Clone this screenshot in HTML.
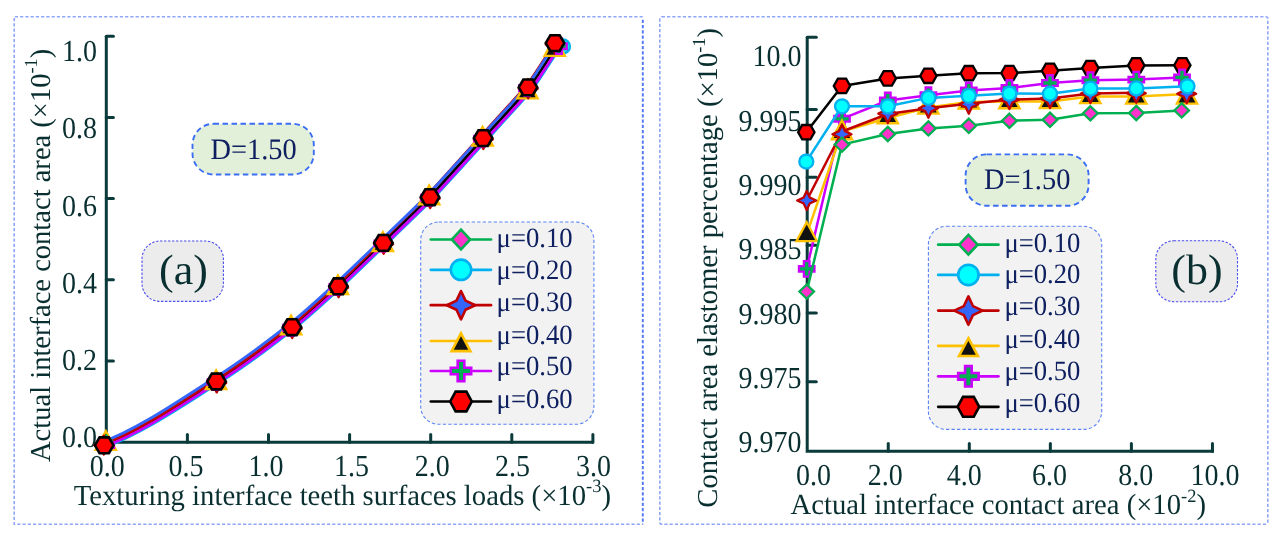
<!DOCTYPE html>
<html><head><meta charset="utf-8"><title>chart</title>
<style>
html,body{margin:0;padding:0;background:#fff;}
svg{display:block;font-family:'Liberation Serif', serif;text-rendering:geometricPrecision;will-change:transform;}
</style></head>
<body>
<svg width="1282" height="540" viewBox="0 0 1282 540">
<rect width="1282" height="540" fill="#ffffff"/>
<path d="M642.8 16.7H14.2V524.3H642.8" fill="none" stroke="#90a6fa" stroke-width="1.6" stroke-dasharray="3.2 2.05"/>
<path d="M642.8 19.7V524.3" fill="none" stroke="#5277f6" stroke-width="1.9" stroke-dasharray="3.4 1.85" stroke-linecap="butt"/>
<rect x="659.8" y="16.7" width="608.00" height="507.60" rx="2" fill="none" stroke="#90a6fa" stroke-width="1.6" stroke-dasharray="3.2 2.05"/>
<path d="M106.3 36.3V442.2H593.6" fill="none" stroke="#0b3a3a" stroke-width="3.0" stroke-linejoin="miter"/>
<path d="M106.3 36.30H113.4" stroke="#0b3a3a" stroke-width="3.0" stroke-linecap="round"/>
<path d="M106.3 117.45H113.4" stroke="#0b3a3a" stroke-width="3.0" stroke-linecap="round"/>
<path d="M106.3 198.60H113.4" stroke="#0b3a3a" stroke-width="3.0" stroke-linecap="round"/>
<path d="M106.3 279.75H113.4" stroke="#0b3a3a" stroke-width="3.0" stroke-linecap="round"/>
<path d="M106.3 360.90H113.4" stroke="#0b3a3a" stroke-width="3.0" stroke-linecap="round"/>
<path d="M187.40 442.2V434.6" stroke="#0b3a3a" stroke-width="3.0" stroke-linecap="round"/>
<path d="M268.50 442.2V434.6" stroke="#0b3a3a" stroke-width="3.0" stroke-linecap="round"/>
<path d="M349.60 442.2V434.6" stroke="#0b3a3a" stroke-width="3.0" stroke-linecap="round"/>
<path d="M430.70 442.2V434.6" stroke="#0b3a3a" stroke-width="3.0" stroke-linecap="round"/>
<path d="M511.80 442.2V434.6" stroke="#0b3a3a" stroke-width="3.0" stroke-linecap="round"/>
<path d="M592.90 442.2V434.6" stroke="#0b3a3a" stroke-width="3.0" stroke-linecap="round"/>
<text transform="translate(96.9 61.0) scale(1 1.09)" font-size="28" text-anchor="end" fill="#0a2f30" >1.0</text>
<text transform="translate(96.9 138.25) scale(1 1.09)" font-size="28" text-anchor="end" fill="#0a2f30" >0.8</text>
<text transform="translate(96.9 215.5) scale(1 1.09)" font-size="28" text-anchor="end" fill="#0a2f30" >0.6</text>
<text transform="translate(96.9 292.75) scale(1 1.09)" font-size="28" text-anchor="end" fill="#0a2f30" >0.4</text>
<text transform="translate(96.9 370.0) scale(1 1.09)" font-size="28" text-anchor="end" fill="#0a2f30" >0.2</text>
<text transform="translate(96.9 447.25) scale(1 1.09)" font-size="28" text-anchor="end" fill="#0a2f30" >0.0</text>
<text transform="translate(107.2 476) scale(1 1.09)" font-size="28" text-anchor="middle" fill="#0a2f30" >0.0</text>
<text transform="translate(186.0 476) scale(1 1.09)" font-size="28" text-anchor="middle" fill="#0a2f30" >0.5</text>
<text transform="translate(266.0 476) scale(1 1.09)" font-size="28" text-anchor="middle" fill="#0a2f30" >1.0</text>
<text transform="translate(351.6 476) scale(1 1.09)" font-size="28" text-anchor="middle" fill="#0a2f30" >1.5</text>
<text transform="translate(432.2 476) scale(1 1.09)" font-size="28" text-anchor="middle" fill="#0a2f30" >2.0</text>
<text transform="translate(512.4 476) scale(1 1.09)" font-size="28" text-anchor="middle" fill="#0a2f30" >2.5</text>
<text transform="translate(593.5 476) scale(1 1.09)" font-size="28" text-anchor="middle" fill="#0a2f30" >3.0</text>
<text transform="translate(73.7 504.9) scale(1 1.04)" font-size="28" text-anchor="start" fill="#0a2f30" textLength="537.3" lengthAdjust="spacingAndGlyphs">Texturing interface teeth surfaces loads (×10<tspan dy="-12" font-size="18">-3</tspan><tspan dy="12">)</tspan></text>
<g transform="translate(49.6 462) rotate(-90)"><text transform="translate(0 0) scale(1 1.03)" font-size="28" text-anchor="start" fill="#0a2f30" textLength="413.3" lengthAdjust="spacingAndGlyphs">Actual interface contact area (×10<tspan dy="-12" font-size="18">-1</tspan><tspan dy="12">)</tspan></text></g>
<rect x="192.5" y="123.8" width="121.30000000000001" height="50.7" rx="21" ry="21" fill="#e2efd9" stroke="#3c6ef5" stroke-width="1.9" stroke-dasharray="5.5 3.5"/>
<text transform="translate(253.6 158.5) scale(1 1.06)" font-size="28" text-anchor="middle" fill="#0f2060" textLength="86.3" lengthAdjust="spacingAndGlyphs">D=1.50</text>
<rect x="142" y="241" width="81.40" height="60.40" rx="18" ry="18" fill="#ececec" stroke="#4d4df0" stroke-width="1.1" stroke-dasharray="2.4 1.6"/>
<text transform="translate(183.4 284.3) scale(1 0.97)" font-size="44" text-anchor="middle" fill="#0a2f30" >(a)</text>
<path d="M104.20 445.30C141.20 432.00 185.20 401.18 216.50 381.50C247.80 361.82 283.87 333.55 292.00 327.20C300.13 320.85 332.31 291.92 338.40 286.30C344.49 280.68 377.29 248.84 383.40 242.90C389.51 236.96 423.32 204.17 430.00 197.20C436.68 190.23 476.98 145.59 483.60 138.30C490.22 131.01 524.33 94.18 529.30 87.90C534.27 81.62 556.27 47.02 558.20 44.10" fill="none" stroke="#00b050" stroke-width="2.2" stroke-linejoin="round" stroke-linecap="round"/>
<path d="M104.20 445.30C141.20 432.00 185.20 401.18 216.50 381.50C247.80 361.82 283.87 333.55 292.00 327.20C300.13 320.85 332.31 291.92 338.40 286.30C344.49 280.68 377.29 248.84 383.40 242.90C389.51 236.96 423.32 204.17 430.00 197.20C436.68 190.23 476.98 145.59 483.60 138.30C490.22 131.01 524.33 94.18 529.30 87.90C534.27 81.62 556.27 47.02 558.20 44.10" fill="none" stroke="#ffc000" stroke-width="2.2" stroke-linejoin="round" stroke-linecap="round"/>
<path d="M105.46 446.73C142.52 433.50 186.76 402.96 218.13 383.35C249.49 363.73 285.49 335.39 293.63 329.05C301.76 322.71 333.99 293.84 340.10 288.23C346.21 282.63 379.12 250.91 385.25 245.00C391.38 239.09 425.37 206.50 432.07 199.55C438.77 192.61 479.19 148.10 485.82 140.82C492.45 133.54 526.54 96.70 531.52 90.42C536.49 84.14 558.49 49.54 560.42 46.62" fill="none" stroke="#00b0f0" stroke-width="2.9" stroke-linejoin="round" stroke-linecap="round"/>
<path d="M103.98 445.05C140.98 431.75 184.98 400.93 216.28 381.25C247.58 361.56 283.65 333.29 291.78 326.95C299.90 320.60 332.08 291.67 338.18 286.05C344.27 280.43 377.07 248.58 383.18 242.65C389.29 236.71 423.17 204.00 429.85 197.03C436.54 190.06 476.83 145.42 483.45 138.13C490.07 130.85 524.18 94.01 529.15 87.73C534.13 81.45 556.13 46.85 558.05 43.93" fill="none" stroke="#000000" stroke-width="2.9" stroke-linejoin="round" stroke-linecap="round"/>
<path d="M104.79 445.97C141.85 432.74 186.10 402.21 217.46 382.59C248.82 362.98 284.83 334.63 292.96 328.29C301.09 321.95 333.32 293.07 339.43 287.48C345.55 281.88 378.52 250.23 384.66 244.33C390.79 238.42 424.77 205.83 431.48 198.88C438.18 191.93 478.60 147.42 485.23 140.15C491.86 132.87 525.95 96.03 530.93 89.75C535.90 83.47 557.90 48.87 559.83 45.95" fill="none" stroke="#cc00ff" stroke-width="2.9" stroke-linejoin="round" stroke-linecap="round"/>
<path d="M103.17 444.12C140.15 430.81 184.10 399.94 215.39 380.24C246.68 360.54 282.77 332.29 290.89 325.94C299.01 319.59 331.16 290.62 337.22 284.96C343.28 279.30 375.73 247.06 381.77 241.05C387.82 235.04 421.29 201.87 427.93 194.85C434.57 187.82 474.71 143.01 481.31 135.70C487.91 128.39 521.97 91.50 526.93 85.21C531.90 78.93 553.91 44.33 555.83 41.41" fill="none" stroke="#c00000" stroke-width="2.9" stroke-linejoin="round" stroke-linecap="round"/>
<path d="M101.61 442.36C138.60 429.05 182.55 398.17 213.84 378.48C245.13 358.78 281.21 330.52 289.34 324.18C297.47 317.83 329.70 288.96 335.81 283.36C341.93 277.76 374.90 246.12 381.03 240.21C387.17 234.31 421.15 201.71 427.86 194.76C434.56 187.82 474.97 143.30 481.60 136.03C488.24 128.76 522.40 91.99 527.38 85.72C532.36 79.44 554.35 44.84 556.28 41.92" fill="none" stroke="#3366ff" stroke-width="2.9" stroke-linejoin="round" stroke-linecap="round"/>
<circle cx="105.20" cy="446.10" r="7.0" fill="#00ffff" stroke="#00b0f0" stroke-width="2.3"/>
<path d="M105.80 431.10L116.00 449.90L95.60 449.90Z" fill="#111111" stroke="#ffc000" stroke-width="2.3" stroke-linejoin="miter"/>
<path d="M106.30 435.50L113.60 442.60L106.30 449.70L99.00 442.60Z" fill="#ff33cc" stroke="#00b050" stroke-width="2.3" stroke-linejoin="miter"/>
<path d="M103.80 435.60L106.84 442.06L113.30 445.10L106.84 448.14L103.80 454.60L100.76 448.14L94.30 445.10L100.76 442.06L103.80 435.60Z" fill="#3366ff" stroke="#c00000" stroke-width="2.3" stroke-linejoin="round"/>
<path d="M103.40 437.35L109.00 437.35L109.00 442.30L113.95 442.30L113.95 447.90L109.00 447.90L109.00 452.85L103.40 452.85L103.40 447.90L98.45 447.90L98.45 442.30L103.40 442.30Z" fill="#00b050" stroke="#cc00ff" stroke-width="2.3" stroke-linejoin="miter"/>
<path d="M94.90 445.30L99.55 437.40L108.85 437.40L113.50 445.30L108.85 453.20L99.55 453.20Z" fill="#ff0000" stroke="#000000" stroke-width="2.6" stroke-linejoin="miter"/>
<circle cx="217.50" cy="382.30" r="7.0" fill="#00ffff" stroke="#00b0f0" stroke-width="2.3"/>
<path d="M216.10 370.40L226.30 389.20L205.90 389.20Z" fill="#111111" stroke="#ffc000" stroke-width="2.3" stroke-linejoin="miter"/>
<path d="M216.80 374.70L224.10 381.80L216.80 388.90L209.50 381.80Z" fill="#ff33cc" stroke="#00b050" stroke-width="2.3" stroke-linejoin="miter"/>
<path d="M216.70 373.40L219.74 379.86L226.20 382.90L219.74 385.94L216.70 392.40L213.66 385.94L207.20 382.90L213.66 379.86L216.70 373.40Z" fill="#3366ff" stroke="#c00000" stroke-width="2.3" stroke-linejoin="round"/>
<path d="M212.70 374.35L218.30 374.35L218.30 379.30L223.25 379.30L223.25 384.90L218.30 384.90L218.30 389.85L212.70 389.85L212.70 384.90L207.75 384.90L207.75 379.30L212.70 379.30Z" fill="#00b050" stroke="#cc00ff" stroke-width="2.3" stroke-linejoin="miter"/>
<path d="M207.20 381.50L211.85 373.60L221.15 373.60L225.80 381.50L221.15 389.40L211.85 389.40Z" fill="#ff0000" stroke="#000000" stroke-width="2.6" stroke-linejoin="miter"/>
<circle cx="293.00" cy="328.00" r="7.0" fill="#00ffff" stroke="#00b0f0" stroke-width="2.3"/>
<path d="M291.10 315.50L301.30 334.30L280.90 334.30Z" fill="#111111" stroke="#ffc000" stroke-width="2.3" stroke-linejoin="miter"/>
<path d="M292.30 320.40L299.60 327.50L292.30 334.60L285.00 327.50Z" fill="#ff33cc" stroke="#00b050" stroke-width="2.3" stroke-linejoin="miter"/>
<path d="M292.20 319.10L295.24 325.56L301.70 328.60L295.24 331.64L292.20 338.10L289.16 331.64L282.70 328.60L289.16 325.56L292.20 319.10Z" fill="#3366ff" stroke="#c00000" stroke-width="2.3" stroke-linejoin="round"/>
<path d="M288.20 320.05L293.80 320.05L293.80 325.00L298.75 325.00L298.75 330.60L293.80 330.60L293.80 335.55L288.20 335.55L288.20 330.60L283.25 330.60L283.25 325.00L288.20 325.00Z" fill="#00b050" stroke="#cc00ff" stroke-width="2.3" stroke-linejoin="miter"/>
<path d="M282.70 327.20L287.35 319.30L296.65 319.30L301.30 327.20L296.65 335.10L287.35 335.10Z" fill="#ff0000" stroke="#000000" stroke-width="2.6" stroke-linejoin="miter"/>
<circle cx="339.40" cy="287.10" r="7.0" fill="#00ffff" stroke="#00b0f0" stroke-width="2.3"/>
<path d="M337.90 275.40L348.10 294.20L327.70 294.20Z" fill="#111111" stroke="#ffc000" stroke-width="2.3" stroke-linejoin="miter"/>
<path d="M338.70 279.50L346.00 286.60L338.70 293.70L331.40 286.60Z" fill="#ff33cc" stroke="#00b050" stroke-width="2.3" stroke-linejoin="miter"/>
<path d="M338.60 278.20L341.64 284.66L348.10 287.70L341.64 290.74L338.60 297.20L335.56 290.74L329.10 287.70L335.56 284.66L338.60 278.20Z" fill="#3366ff" stroke="#c00000" stroke-width="2.3" stroke-linejoin="round"/>
<path d="M334.60 279.15L340.20 279.15L340.20 284.10L345.15 284.10L345.15 289.70L340.20 289.70L340.20 294.65L334.60 294.65L334.60 289.70L329.65 289.70L329.65 284.10L334.60 284.10Z" fill="#00b050" stroke="#cc00ff" stroke-width="2.3" stroke-linejoin="miter"/>
<path d="M329.10 286.30L333.75 278.40L343.05 278.40L347.70 286.30L343.05 294.20L333.75 294.20Z" fill="#ff0000" stroke="#000000" stroke-width="2.6" stroke-linejoin="miter"/>
<circle cx="384.40" cy="243.70" r="7.0" fill="#00ffff" stroke="#00b0f0" stroke-width="2.3"/>
<path d="M382.90 232.20L393.10 251.00L372.70 251.00Z" fill="#111111" stroke="#ffc000" stroke-width="2.3" stroke-linejoin="miter"/>
<path d="M383.70 236.10L391.00 243.20L383.70 250.30L376.40 243.20Z" fill="#ff33cc" stroke="#00b050" stroke-width="2.3" stroke-linejoin="miter"/>
<path d="M383.60 234.80L386.64 241.26L393.10 244.30L386.64 247.34L383.60 253.80L380.56 247.34L374.10 244.30L380.56 241.26L383.60 234.80Z" fill="#3366ff" stroke="#c00000" stroke-width="2.3" stroke-linejoin="round"/>
<path d="M379.60 235.75L385.20 235.75L385.20 240.70L390.15 240.70L390.15 246.30L385.20 246.30L385.20 251.25L379.60 251.25L379.60 246.30L374.65 246.30L374.65 240.70L379.60 240.70Z" fill="#00b050" stroke="#cc00ff" stroke-width="2.3" stroke-linejoin="miter"/>
<path d="M374.10 242.90L378.75 235.00L388.05 235.00L392.70 242.90L388.05 250.80L378.75 250.80Z" fill="#ff0000" stroke="#000000" stroke-width="2.6" stroke-linejoin="miter"/>
<circle cx="431.00" cy="198.00" r="7.0" fill="#00ffff" stroke="#00b0f0" stroke-width="2.3"/>
<path d="M429.20 185.50L439.40 204.30L419.00 204.30Z" fill="#111111" stroke="#ffc000" stroke-width="2.3" stroke-linejoin="miter"/>
<path d="M430.30 190.40L437.60 197.50L430.30 204.60L423.00 197.50Z" fill="#ff33cc" stroke="#00b050" stroke-width="2.3" stroke-linejoin="miter"/>
<path d="M430.20 189.10L433.24 195.56L439.70 198.60L433.24 201.64L430.20 208.10L427.16 201.64L420.70 198.60L427.16 195.56L430.20 189.10Z" fill="#3366ff" stroke="#c00000" stroke-width="2.3" stroke-linejoin="round"/>
<path d="M426.20 190.05L431.80 190.05L431.80 195.00L436.75 195.00L436.75 200.60L431.80 200.60L431.80 205.55L426.20 205.55L426.20 200.60L421.25 200.60L421.25 195.00L426.20 195.00Z" fill="#00b050" stroke="#cc00ff" stroke-width="2.3" stroke-linejoin="miter"/>
<path d="M420.70 197.20L425.35 189.30L434.65 189.30L439.30 197.20L434.65 205.10L425.35 205.10Z" fill="#ff0000" stroke="#000000" stroke-width="2.6" stroke-linejoin="miter"/>
<circle cx="484.10" cy="138.90" r="7.0" fill="#00ffff" stroke="#00b0f0" stroke-width="2.3"/>
<path d="M482.60 126.90L492.80 145.70L472.40 145.70Z" fill="#111111" stroke="#ffc000" stroke-width="2.3" stroke-linejoin="miter"/>
<path d="M483.40 131.30L490.70 138.40L483.40 145.50L476.10 138.40Z" fill="#ff33cc" stroke="#00b050" stroke-width="2.3" stroke-linejoin="miter"/>
<path d="M483.30 130.00L486.34 136.46L492.80 139.50L486.34 142.54L483.30 149.00L480.26 142.54L473.80 139.50L480.26 136.46L483.30 130.00Z" fill="#3366ff" stroke="#c00000" stroke-width="2.3" stroke-linejoin="round"/>
<path d="M479.30 130.95L484.90 130.95L484.90 135.90L489.85 135.90L489.85 141.50L484.90 141.50L484.90 146.45L479.30 146.45L479.30 141.50L474.35 141.50L474.35 135.90L479.30 135.90Z" fill="#00b050" stroke="#cc00ff" stroke-width="2.3" stroke-linejoin="miter"/>
<path d="M473.80 138.10L478.45 130.20L487.75 130.20L492.40 138.10L487.75 146.00L478.45 146.00Z" fill="#ff0000" stroke="#000000" stroke-width="2.6" stroke-linejoin="miter"/>
<circle cx="529.00" cy="88.20" r="7.0" fill="#00ffff" stroke="#00b0f0" stroke-width="2.3"/>
<path d="M527.40 79.60L537.60 98.40L517.20 98.40Z" fill="#111111" stroke="#ffc000" stroke-width="2.3" stroke-linejoin="miter"/>
<path d="M528.30 80.60L535.60 87.70L528.30 94.80L521.00 87.70Z" fill="#ff33cc" stroke="#00b050" stroke-width="2.3" stroke-linejoin="miter"/>
<path d="M528.20 79.30L531.24 85.76L537.70 88.80L531.24 91.84L528.20 98.30L525.16 91.84L518.70 88.80L525.16 85.76L528.20 79.30Z" fill="#3366ff" stroke="#c00000" stroke-width="2.3" stroke-linejoin="round"/>
<path d="M524.20 80.25L529.80 80.25L529.80 85.20L534.75 85.20L534.75 90.80L529.80 90.80L529.80 95.75L524.20 95.75L524.20 90.80L519.25 90.80L519.25 85.20L524.20 85.20Z" fill="#00b050" stroke="#cc00ff" stroke-width="2.3" stroke-linejoin="miter"/>
<path d="M518.70 87.40L523.35 79.50L532.65 79.50L537.30 87.40L532.65 95.30L523.35 95.30Z" fill="#ff0000" stroke="#000000" stroke-width="2.6" stroke-linejoin="miter"/>
<circle cx="563.00" cy="46.40" r="7.0" fill="#00ffff" stroke="#00b0f0" stroke-width="2.3"/>
<path d="M554.70 37.10L564.90 55.90L544.50 55.90Z" fill="#111111" stroke="#ffc000" stroke-width="2.3" stroke-linejoin="miter"/>
<path d="M555.30 36.30L562.60 43.40L555.30 50.50L548.00 43.40Z" fill="#ff33cc" stroke="#00b050" stroke-width="2.3" stroke-linejoin="miter"/>
<path d="M555.20 35.00L558.24 41.46L564.70 44.50L558.24 47.54L555.20 54.00L552.16 47.54L545.70 44.50L552.16 41.46L555.20 35.00Z" fill="#3366ff" stroke="#c00000" stroke-width="2.3" stroke-linejoin="round"/>
<path d="M556.20 38.45L561.80 38.45L561.80 43.40L566.75 43.40L566.75 49.00L561.80 49.00L561.80 53.95L556.20 53.95L556.20 49.00L551.25 49.00L551.25 43.40L556.20 43.40Z" fill="#00b050" stroke="#cc00ff" stroke-width="2.3" stroke-linejoin="miter"/>
<path d="M545.70 43.10L550.35 35.20L559.65 35.20L564.30 43.10L559.65 51.00L550.35 51.00Z" fill="#ff0000" stroke="#000000" stroke-width="2.6" stroke-linejoin="miter"/>
<rect x="420.7" y="222.0" width="173.20" height="202.30" rx="18" ry="18" fill="#f2f2f2" stroke="#5b84f5" stroke-width="1.1" stroke-dasharray="3.3 2.2"/>
<path d="M430.8 239.5H491.0" stroke="#00b050" stroke-width="2.7" stroke-linecap="round"/>
<path d="M461.00 229.70L470.20 239.50L461.00 249.30L451.80 239.50Z" fill="#ff33cc" stroke="#00b050" stroke-width="2.6" stroke-linejoin="miter"/>
<text transform="translate(496.6 247.29999999999998) scale(1 1.0)" font-size="28" text-anchor="start" fill="#0f2060" textLength="76" lengthAdjust="spacingAndGlyphs">μ=0.10</text>
<path d="M430.8 269.8H491.0" stroke="#00b0f0" stroke-width="2.7" stroke-linecap="round"/>
<circle cx="461.00" cy="269.80" r="10.2" fill="#00ffff" stroke="#00b0f0" stroke-width="2.6"/>
<text transform="translate(496.6 279.20000000000005) scale(1 1.0)" font-size="28" text-anchor="start" fill="#0f2060" textLength="76" lengthAdjust="spacingAndGlyphs">μ=0.20</text>
<path d="M430.8 305.2H491.0" stroke="#c00000" stroke-width="2.7" stroke-linecap="round"/>
<path d="M461.00 291.00L465.53 300.67L475.20 305.20L465.53 309.73L461.00 319.40L456.47 309.73L446.80 305.20L456.47 300.67L461.00 291.00Z" fill="#3366ff" stroke="#c00000" stroke-width="2.6" stroke-linejoin="round"/>
<text transform="translate(496.6 311.20000000000005) scale(1 1.0)" font-size="28" text-anchor="start" fill="#0f2060" textLength="76" lengthAdjust="spacingAndGlyphs">μ=0.30</text>
<path d="M430.8 341H491.0" stroke="#ffc000" stroke-width="2.7" stroke-linecap="round"/>
<path d="M461.00 333.30L470.40 351.10L451.60 351.10Z" fill="#111111" stroke="#ffc000" stroke-width="2.6" stroke-linejoin="miter"/>
<text transform="translate(496.6 343.6) scale(1 1.0)" font-size="28" text-anchor="start" fill="#0f2060" textLength="76" lengthAdjust="spacingAndGlyphs">μ=0.40</text>
<path d="M430.8 371H491.0" stroke="#cc00ff" stroke-width="2.7" stroke-linecap="round"/>
<path d="M457.70 360.80L464.30 360.80L464.30 367.70L471.20 367.70L471.20 374.30L464.30 374.30L464.30 381.20L457.70 381.20L457.70 374.30L450.80 374.30L450.80 367.70L457.70 367.70Z" fill="#00b050" stroke="#cc00ff" stroke-width="2.6" stroke-linejoin="miter"/>
<text transform="translate(496.6 375.20000000000005) scale(1 1.0)" font-size="28" text-anchor="start" fill="#0f2060" textLength="76" lengthAdjust="spacingAndGlyphs">μ=0.50</text>
<path d="M430.8 401.5H491.0" stroke="#000000" stroke-width="2.7" stroke-linecap="round"/>
<path d="M450.20 401.50L455.60 391.60L466.40 391.60L471.80 401.50L466.40 411.40L455.60 411.40Z" fill="#ff0000" stroke="#000000" stroke-width="2.6" stroke-linejoin="miter"/>
<text transform="translate(496.6 407.8) scale(1 1.0)" font-size="28" text-anchor="start" fill="#0f2060" textLength="76" lengthAdjust="spacingAndGlyphs">μ=0.60</text>
<path d="M807.2 37.2V451.2H1213.9" fill="none" stroke="#0b3a3a" stroke-width="3.0" stroke-linejoin="miter"/>
<path d="M807.2 37.2H816.3" stroke="#0b3a3a" stroke-width="3.0" stroke-linecap="round"/>
<path d="M807.2 109.4H816.3" stroke="#0b3a3a" stroke-width="3.0" stroke-linecap="round"/>
<path d="M807.2 177.3H816.3" stroke="#0b3a3a" stroke-width="3.0" stroke-linecap="round"/>
<path d="M807.2 245.2H816.3" stroke="#0b3a3a" stroke-width="3.0" stroke-linecap="round"/>
<path d="M807.2 313.0H816.3" stroke="#0b3a3a" stroke-width="3.0" stroke-linecap="round"/>
<path d="M807.2 381.8H816.3" stroke="#0b3a3a" stroke-width="3.0" stroke-linecap="round"/>
<path d="M888.25 451.2V443.6" stroke="#0b3a3a" stroke-width="3.0" stroke-linecap="round"/>
<path d="M969.30 451.2V443.6" stroke="#0b3a3a" stroke-width="3.0" stroke-linecap="round"/>
<path d="M1050.35 451.2V443.6" stroke="#0b3a3a" stroke-width="3.0" stroke-linecap="round"/>
<path d="M1131.40 451.2V443.6" stroke="#0b3a3a" stroke-width="3.0" stroke-linecap="round"/>
<path d="M1212.45 451.2V443.6" stroke="#0b3a3a" stroke-width="3.0" stroke-linecap="round"/>
<text transform="translate(801.4 66.4) scale(1 1.09)" font-size="28" text-anchor="end" fill="#0a2f30" >10.0</text>
<text transform="translate(801.4 130.7) scale(1 1.09)" font-size="28" text-anchor="end" fill="#0a2f30" >9.995</text>
<text transform="translate(801.4 195.0) scale(1 1.09)" font-size="28" text-anchor="end" fill="#0a2f30" >9.990</text>
<text transform="translate(801.4 259.29999999999995) scale(1 1.09)" font-size="28" text-anchor="end" fill="#0a2f30" >9.985</text>
<text transform="translate(801.4 323.6) scale(1 1.09)" font-size="28" text-anchor="end" fill="#0a2f30" >9.980</text>
<text transform="translate(801.4 387.9) scale(1 1.09)" font-size="28" text-anchor="end" fill="#0a2f30" >9.975</text>
<text transform="translate(801.4 452.19999999999993) scale(1 1.09)" font-size="28" text-anchor="end" fill="#0a2f30" >9.970</text>
<text transform="translate(813.6 485.0) scale(1 1.09)" font-size="28" text-anchor="middle" fill="#0a2f30" >0.0</text>
<text transform="translate(885.2 485.0) scale(1 1.09)" font-size="28" text-anchor="middle" fill="#0a2f30" >2.0</text>
<text transform="translate(964.2 485.0) scale(1 1.09)" font-size="28" text-anchor="middle" fill="#0a2f30" >4.0</text>
<text transform="translate(1049.3999999999999 485.0) scale(1 1.09)" font-size="28" text-anchor="middle" fill="#0a2f30" >6.0</text>
<text transform="translate(1135.8 485.0) scale(1 1.09)" font-size="28" text-anchor="middle" fill="#0a2f30" >8.0</text>
<text transform="translate(1215.1 485.0) scale(1 1.09)" font-size="28" text-anchor="middle" fill="#0a2f30" >10.0</text>
<text transform="translate(790.5 514) scale(1 1.04)" font-size="28" text-anchor="start" fill="#0a2f30" textLength="415.5" lengthAdjust="spacingAndGlyphs">Actual interface contact area (×10<tspan dy="-12" font-size="18">-2</tspan><tspan dy="12">)</tspan></text>
<g transform="translate(716.9 507.7) rotate(-90)"><text transform="translate(0 0) scale(1 1.03)" font-size="28" text-anchor="start" fill="#0a2f30" textLength="479.8" lengthAdjust="spacingAndGlyphs">Contact area elastomer percentage (×10<tspan dy="-12" font-size="18">-1</tspan><tspan dy="12">)</tspan></text></g>
<rect x="965.6" y="154.4" width="122.99999999999989" height="51.400000000000006" rx="21" ry="21" fill="#e2efd9" stroke="#3c6ef5" stroke-width="1.9" stroke-dasharray="5.5 3.5"/>
<text transform="translate(1027.2 189.3) scale(1 1.06)" font-size="28" text-anchor="middle" fill="#0f2060" textLength="86.3" lengthAdjust="spacingAndGlyphs">D=1.50</text>
<rect x="1155.8" y="240.8" width="81.70" height="60.90" rx="18" ry="18" fill="#ececec" stroke="#4d4df0" stroke-width="1.1" stroke-dasharray="2.4 1.6"/>
<text transform="translate(1197 284.0) scale(1 0.97)" font-size="44" text-anchor="middle" fill="#0a2f30" >(b)</text>
<path d="M806.30 132.20L842.00 85.90L887.80 78.40L928.40 75.80L968.80 73.20L1009.40 73.00L1050.00 70.80L1090.40 68.10L1136.30 65.40L1182.30 65.30" fill="none" stroke="#000000" stroke-width="2.5" stroke-linejoin="round" stroke-linecap="round"/>
<path d="M798.10 132.20L802.20 125.00L810.40 125.00L814.50 132.20L810.40 139.40L802.20 139.40Z" fill="#ff0000" stroke="#000000" stroke-width="2.3" stroke-linejoin="miter"/>
<path d="M833.80 85.90L837.90 78.70L846.10 78.70L850.20 85.90L846.10 93.10L837.90 93.10Z" fill="#ff0000" stroke="#000000" stroke-width="2.3" stroke-linejoin="miter"/>
<path d="M879.60 78.40L883.70 71.20L891.90 71.20L896.00 78.40L891.90 85.60L883.70 85.60Z" fill="#ff0000" stroke="#000000" stroke-width="2.3" stroke-linejoin="miter"/>
<path d="M920.20 75.80L924.30 68.60L932.50 68.60L936.60 75.80L932.50 83.00L924.30 83.00Z" fill="#ff0000" stroke="#000000" stroke-width="2.3" stroke-linejoin="miter"/>
<path d="M960.60 73.20L964.70 66.00L972.90 66.00L977.00 73.20L972.90 80.40L964.70 80.40Z" fill="#ff0000" stroke="#000000" stroke-width="2.3" stroke-linejoin="miter"/>
<path d="M1001.20 73.00L1005.30 65.80L1013.50 65.80L1017.60 73.00L1013.50 80.20L1005.30 80.20Z" fill="#ff0000" stroke="#000000" stroke-width="2.3" stroke-linejoin="miter"/>
<path d="M1041.80 70.80L1045.90 63.60L1054.10 63.60L1058.20 70.80L1054.10 78.00L1045.90 78.00Z" fill="#ff0000" stroke="#000000" stroke-width="2.3" stroke-linejoin="miter"/>
<path d="M1082.20 68.10L1086.30 60.90L1094.50 60.90L1098.60 68.10L1094.50 75.30L1086.30 75.30Z" fill="#ff0000" stroke="#000000" stroke-width="2.3" stroke-linejoin="miter"/>
<path d="M1128.10 65.40L1132.20 58.20L1140.40 58.20L1144.50 65.40L1140.40 72.60L1132.20 72.60Z" fill="#ff0000" stroke="#000000" stroke-width="2.3" stroke-linejoin="miter"/>
<path d="M1174.10 65.30L1178.20 58.10L1186.40 58.10L1190.50 65.30L1186.40 72.50L1178.20 72.50Z" fill="#ff0000" stroke="#000000" stroke-width="2.3" stroke-linejoin="miter"/>
<path d="M806.70 268.90L842.00 118.80L887.80 100.50L928.40 95.20L968.80 90.50L1009.40 88.00L1050.00 83.00L1090.40 80.20L1136.30 79.60L1182.00 77.40" fill="none" stroke="#cc00ff" stroke-width="2.5" stroke-linejoin="round" stroke-linecap="round"/>
<path d="M803.90 261.15L809.50 261.15L809.50 266.10L814.45 266.10L814.45 271.70L809.50 271.70L809.50 276.65L803.90 276.65L803.90 271.70L798.95 271.70L798.95 266.10L803.90 266.10Z" fill="#00b050" stroke="#cc00ff" stroke-width="2.3" stroke-linejoin="miter"/>
<path d="M839.20 111.05L844.80 111.05L844.80 116.00L849.75 116.00L849.75 121.60L844.80 121.60L844.80 126.55L839.20 126.55L839.20 121.60L834.25 121.60L834.25 116.00L839.20 116.00Z" fill="#00b050" stroke="#cc00ff" stroke-width="2.3" stroke-linejoin="miter"/>
<path d="M885.00 92.75L890.60 92.75L890.60 97.70L895.55 97.70L895.55 103.30L890.60 103.30L890.60 108.25L885.00 108.25L885.00 103.30L880.05 103.30L880.05 97.70L885.00 97.70Z" fill="#00b050" stroke="#cc00ff" stroke-width="2.3" stroke-linejoin="miter"/>
<path d="M925.60 87.45L931.20 87.45L931.20 92.40L936.15 92.40L936.15 98.00L931.20 98.00L931.20 102.95L925.60 102.95L925.60 98.00L920.65 98.00L920.65 92.40L925.60 92.40Z" fill="#00b050" stroke="#cc00ff" stroke-width="2.3" stroke-linejoin="miter"/>
<path d="M966.00 82.75L971.60 82.75L971.60 87.70L976.55 87.70L976.55 93.30L971.60 93.30L971.60 98.25L966.00 98.25L966.00 93.30L961.05 93.30L961.05 87.70L966.00 87.70Z" fill="#00b050" stroke="#cc00ff" stroke-width="2.3" stroke-linejoin="miter"/>
<path d="M1006.60 80.25L1012.20 80.25L1012.20 85.20L1017.15 85.20L1017.15 90.80L1012.20 90.80L1012.20 95.75L1006.60 95.75L1006.60 90.80L1001.65 90.80L1001.65 85.20L1006.60 85.20Z" fill="#00b050" stroke="#cc00ff" stroke-width="2.3" stroke-linejoin="miter"/>
<path d="M1047.20 75.25L1052.80 75.25L1052.80 80.20L1057.75 80.20L1057.75 85.80L1052.80 85.80L1052.80 90.75L1047.20 90.75L1047.20 85.80L1042.25 85.80L1042.25 80.20L1047.20 80.20Z" fill="#00b050" stroke="#cc00ff" stroke-width="2.3" stroke-linejoin="miter"/>
<path d="M1087.60 72.45L1093.20 72.45L1093.20 77.40L1098.15 77.40L1098.15 83.00L1093.20 83.00L1093.20 87.95L1087.60 87.95L1087.60 83.00L1082.65 83.00L1082.65 77.40L1087.60 77.40Z" fill="#00b050" stroke="#cc00ff" stroke-width="2.3" stroke-linejoin="miter"/>
<path d="M1133.50 71.85L1139.10 71.85L1139.10 76.80L1144.05 76.80L1144.05 82.40L1139.10 82.40L1139.10 87.35L1133.50 87.35L1133.50 82.40L1128.55 82.40L1128.55 76.80L1133.50 76.80Z" fill="#00b050" stroke="#cc00ff" stroke-width="2.3" stroke-linejoin="miter"/>
<path d="M1179.20 69.65L1184.80 69.65L1184.80 74.60L1189.75 74.60L1189.75 80.20L1184.80 80.20L1184.80 85.15L1179.20 85.15L1179.20 80.20L1174.25 80.20L1174.25 74.60L1179.20 74.60Z" fill="#00b050" stroke="#cc00ff" stroke-width="2.3" stroke-linejoin="miter"/>
<path d="M806.70 234.40L842.00 131.50L887.80 118.00L928.40 107.50L968.80 102.00L1009.40 101.60L1050.00 101.40L1090.40 96.40L1136.30 96.40L1187.00 94.00" fill="none" stroke="#ffc000" stroke-width="2.5" stroke-linejoin="round" stroke-linecap="round"/>
<path d="M806.70 222.25L816.90 241.05L796.50 241.05Z" fill="#111111" stroke="#ffc000" stroke-width="2.3" stroke-linejoin="miter"/>
<path d="M842.00 120.45L852.20 139.25L831.80 139.25Z" fill="#111111" stroke="#ffc000" stroke-width="2.3" stroke-linejoin="miter"/>
<path d="M887.80 104.45L898.00 123.25L877.60 123.25Z" fill="#111111" stroke="#ffc000" stroke-width="2.3" stroke-linejoin="miter"/>
<path d="M928.40 94.75L938.60 113.55L918.20 113.55Z" fill="#111111" stroke="#ffc000" stroke-width="2.3" stroke-linejoin="miter"/>
<path d="M968.80 89.75L979.00 108.55L958.60 108.55Z" fill="#111111" stroke="#ffc000" stroke-width="2.3" stroke-linejoin="miter"/>
<path d="M1009.40 89.45L1019.60 108.25L999.20 108.25Z" fill="#111111" stroke="#ffc000" stroke-width="2.3" stroke-linejoin="miter"/>
<path d="M1050.00 89.25L1060.20 108.05L1039.80 108.05Z" fill="#111111" stroke="#ffc000" stroke-width="2.3" stroke-linejoin="miter"/>
<path d="M1090.40 84.25L1100.60 103.05L1080.20 103.05Z" fill="#111111" stroke="#ffc000" stroke-width="2.3" stroke-linejoin="miter"/>
<path d="M1136.30 84.75L1146.50 103.55L1126.10 103.55Z" fill="#111111" stroke="#ffc000" stroke-width="2.3" stroke-linejoin="miter"/>
<path d="M1187.00 84.75L1197.20 103.55L1176.80 103.55Z" fill="#111111" stroke="#ffc000" stroke-width="2.3" stroke-linejoin="miter"/>
<path d="M806.70 200.50L842.00 131.50L887.80 114.00L928.40 108.20L968.80 103.80L1009.40 99.60L1050.00 98.60L1090.40 93.50L1136.30 92.80" fill="none" stroke="#c00000" stroke-width="2.5" stroke-linejoin="round" stroke-linecap="round"/>
<path d="M806.70 191.00L809.74 197.46L816.20 200.50L809.74 203.54L806.70 210.00L803.66 203.54L797.20 200.50L803.66 197.46L806.70 191.00Z" fill="#3366ff" stroke="#c00000" stroke-width="2.3" stroke-linejoin="round"/>
<path d="M842.00 124.70L845.04 131.16L851.50 134.20L845.04 137.24L842.00 143.70L838.96 137.24L832.50 134.20L838.96 131.16L842.00 124.70Z" fill="#3366ff" stroke="#c00000" stroke-width="2.3" stroke-linejoin="round"/>
<path d="M887.80 104.10L890.84 110.56L897.30 113.60L890.84 116.64L887.80 123.10L884.76 116.64L878.30 113.60L884.76 110.56L887.80 104.10Z" fill="#3366ff" stroke="#c00000" stroke-width="2.3" stroke-linejoin="round"/>
<path d="M928.40 98.80L931.44 105.26L937.90 108.30L931.44 111.34L928.40 117.80L925.36 111.34L918.90 108.30L925.36 105.26L928.40 98.80Z" fill="#3366ff" stroke="#c00000" stroke-width="2.3" stroke-linejoin="round"/>
<path d="M968.80 94.70L971.84 101.16L978.30 104.20L971.84 107.24L968.80 113.70L965.76 107.24L959.30 104.20L965.76 101.16L968.80 94.70Z" fill="#3366ff" stroke="#c00000" stroke-width="2.3" stroke-linejoin="round"/>
<path d="M1009.40 90.10L1012.44 96.56L1018.90 99.60L1012.44 102.64L1009.40 109.10L1006.36 102.64L999.90 99.60L1006.36 96.56L1009.40 90.10Z" fill="#3366ff" stroke="#c00000" stroke-width="2.3" stroke-linejoin="round"/>
<path d="M1050.00 89.10L1053.04 95.56L1059.50 98.60L1053.04 101.64L1050.00 108.10L1046.96 101.64L1040.50 98.60L1046.96 95.56L1050.00 89.10Z" fill="#3366ff" stroke="#c00000" stroke-width="2.3" stroke-linejoin="round"/>
<path d="M1090.40 84.10L1093.44 90.56L1099.90 93.60L1093.44 96.64L1090.40 103.10L1087.36 96.64L1080.90 93.60L1087.36 90.56L1090.40 84.10Z" fill="#3366ff" stroke="#c00000" stroke-width="2.3" stroke-linejoin="round"/>
<path d="M1136.30 83.70L1139.34 90.16L1145.80 93.20L1139.34 96.24L1136.30 102.70L1133.26 96.24L1126.80 93.20L1133.26 90.16L1136.30 83.70Z" fill="#3366ff" stroke="#c00000" stroke-width="2.3" stroke-linejoin="round"/>
<path d="M1186.70 84.20L1189.74 90.66L1196.20 93.70L1189.74 96.74L1186.70 103.20L1183.66 96.74L1177.20 93.70L1183.66 90.66L1186.70 84.20Z" fill="#3366ff" stroke="#c00000" stroke-width="2.3" stroke-linejoin="round"/>
<path d="M806.30 161.60L842.00 106.30L887.80 106.30L928.40 97.90L968.80 95.80L1009.40 93.60L1050.00 93.70L1090.40 88.60L1136.30 88.40L1187.50 86.30" fill="none" stroke="#00b0f0" stroke-width="2.5" stroke-linejoin="round" stroke-linecap="round"/>
<circle cx="806.30" cy="161.60" r="7.0" fill="#00ffff" stroke="#00b0f0" stroke-width="2.3"/>
<circle cx="842.00" cy="106.30" r="7.0" fill="#00ffff" stroke="#00b0f0" stroke-width="2.3"/>
<circle cx="887.80" cy="106.30" r="7.0" fill="#00ffff" stroke="#00b0f0" stroke-width="2.3"/>
<circle cx="928.40" cy="97.90" r="7.0" fill="#00ffff" stroke="#00b0f0" stroke-width="2.3"/>
<circle cx="968.80" cy="95.80" r="7.0" fill="#00ffff" stroke="#00b0f0" stroke-width="2.3"/>
<circle cx="1009.40" cy="93.60" r="7.0" fill="#00ffff" stroke="#00b0f0" stroke-width="2.3"/>
<circle cx="1050.00" cy="93.70" r="7.0" fill="#00ffff" stroke="#00b0f0" stroke-width="2.3"/>
<circle cx="1090.40" cy="88.60" r="7.0" fill="#00ffff" stroke="#00b0f0" stroke-width="2.3"/>
<circle cx="1136.30" cy="88.40" r="7.0" fill="#00ffff" stroke="#00b0f0" stroke-width="2.3"/>
<circle cx="1187.50" cy="86.30" r="7.0" fill="#00ffff" stroke="#00b0f0" stroke-width="2.3"/>
<path d="M806.70 291.60L842.00 144.60L887.80 134.00L928.40 128.40L968.80 125.80L1009.40 120.80L1050.00 119.70L1090.40 113.30L1136.30 113.00L1181.70 110.40" fill="none" stroke="#00b050" stroke-width="2.5" stroke-linejoin="round" stroke-linecap="round"/>
<path d="M806.70 284.50L814.00 291.60L806.70 298.70L799.40 291.60Z" fill="#ff33cc" stroke="#00b050" stroke-width="2.3" stroke-linejoin="miter"/>
<path d="M842.00 137.50L849.30 144.60L842.00 151.70L834.70 144.60Z" fill="#ff33cc" stroke="#00b050" stroke-width="2.3" stroke-linejoin="miter"/>
<path d="M887.80 126.90L895.10 134.00L887.80 141.10L880.50 134.00Z" fill="#ff33cc" stroke="#00b050" stroke-width="2.3" stroke-linejoin="miter"/>
<path d="M928.40 121.30L935.70 128.40L928.40 135.50L921.10 128.40Z" fill="#ff33cc" stroke="#00b050" stroke-width="2.3" stroke-linejoin="miter"/>
<path d="M968.80 118.70L976.10 125.80L968.80 132.90L961.50 125.80Z" fill="#ff33cc" stroke="#00b050" stroke-width="2.3" stroke-linejoin="miter"/>
<path d="M1009.40 113.70L1016.70 120.80L1009.40 127.90L1002.10 120.80Z" fill="#ff33cc" stroke="#00b050" stroke-width="2.3" stroke-linejoin="miter"/>
<path d="M1050.00 112.60L1057.30 119.70L1050.00 126.80L1042.70 119.70Z" fill="#ff33cc" stroke="#00b050" stroke-width="2.3" stroke-linejoin="miter"/>
<path d="M1090.40 106.20L1097.70 113.30L1090.40 120.40L1083.10 113.30Z" fill="#ff33cc" stroke="#00b050" stroke-width="2.3" stroke-linejoin="miter"/>
<path d="M1136.30 105.90L1143.60 113.00L1136.30 120.10L1129.00 113.00Z" fill="#ff33cc" stroke="#00b050" stroke-width="2.3" stroke-linejoin="miter"/>
<path d="M1181.70 103.30L1189.00 110.40L1181.70 117.50L1174.40 110.40Z" fill="#ff33cc" stroke="#00b050" stroke-width="2.3" stroke-linejoin="miter"/>
<rect x="928.4" y="226.3" width="173.30" height="203.10" rx="18" ry="18" fill="#f2f2f2" stroke="#5b84f5" stroke-width="1.1" stroke-dasharray="3.3 2.2"/>
<path d="M938.1999999999999 244.7H998.4" stroke="#00b050" stroke-width="2.7" stroke-linecap="round"/>
<path d="M968.40 234.90L977.60 244.70L968.40 254.50L959.20 244.70Z" fill="#ff33cc" stroke="#00b050" stroke-width="2.6" stroke-linejoin="miter"/>
<text transform="translate(1004.4 252.2) scale(1 1.0)" font-size="28" text-anchor="start" fill="#0f2060" textLength="76" lengthAdjust="spacingAndGlyphs">μ=0.10</text>
<path d="M938.1999999999999 274.9H998.4" stroke="#00b0f0" stroke-width="2.7" stroke-linecap="round"/>
<circle cx="968.40" cy="274.90" r="10.2" fill="#00ffff" stroke="#00b0f0" stroke-width="2.6"/>
<text transform="translate(1004.4 283.20000000000005) scale(1 1.0)" font-size="28" text-anchor="start" fill="#0f2060" textLength="76" lengthAdjust="spacingAndGlyphs">μ=0.20</text>
<path d="M938.1999999999999 310.6H998.4" stroke="#c00000" stroke-width="2.7" stroke-linecap="round"/>
<path d="M968.40 296.40L972.93 306.07L982.60 310.60L972.93 315.13L968.40 324.80L963.87 315.13L954.20 310.60L963.87 306.07L968.40 296.40Z" fill="#3366ff" stroke="#c00000" stroke-width="2.6" stroke-linejoin="round"/>
<text transform="translate(1004.4 315.40000000000003) scale(1 1.0)" font-size="28" text-anchor="start" fill="#0f2060" textLength="76" lengthAdjust="spacingAndGlyphs">μ=0.30</text>
<path d="M938.1999999999999 345.9H998.4" stroke="#ffc000" stroke-width="2.7" stroke-linecap="round"/>
<path d="M968.40 338.20L977.80 356.00L959.00 356.00Z" fill="#111111" stroke="#ffc000" stroke-width="2.6" stroke-linejoin="miter"/>
<text transform="translate(1004.4 348.40000000000003) scale(1 1.0)" font-size="28" text-anchor="start" fill="#0f2060" textLength="76" lengthAdjust="spacingAndGlyphs">μ=0.40</text>
<path d="M938.1999999999999 376.3H998.4" stroke="#cc00ff" stroke-width="2.7" stroke-linecap="round"/>
<path d="M965.10 366.10L971.70 366.10L971.70 373.00L978.60 373.00L978.60 379.60L971.70 379.60L971.70 386.50L965.10 386.50L965.10 379.60L958.20 379.60L958.20 373.00L965.10 373.00Z" fill="#00b050" stroke="#cc00ff" stroke-width="2.6" stroke-linejoin="miter"/>
<text transform="translate(1004.4 380.20000000000005) scale(1 1.0)" font-size="28" text-anchor="start" fill="#0f2060" textLength="76" lengthAdjust="spacingAndGlyphs">μ=0.50</text>
<path d="M938.1999999999999 406.8H998.4" stroke="#000000" stroke-width="2.7" stroke-linecap="round"/>
<path d="M957.60 406.80L963.00 396.90L973.80 396.90L979.20 406.80L973.80 416.70L963.00 416.70Z" fill="#ff0000" stroke="#000000" stroke-width="2.6" stroke-linejoin="miter"/>
<text transform="translate(1004.4 412.3) scale(1 1.0)" font-size="28" text-anchor="start" fill="#0f2060" textLength="76" lengthAdjust="spacingAndGlyphs">μ=0.60</text>
</svg>
</body></html>
